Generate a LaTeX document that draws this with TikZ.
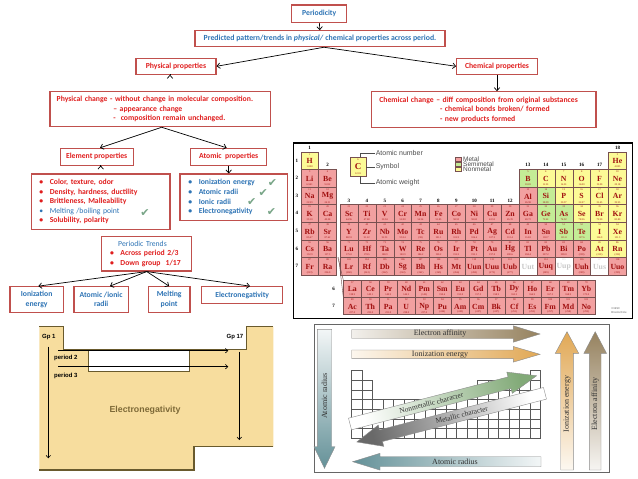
\documentclass[tikz,border=0pt]{standalone}
\usepackage{fontspec}
\setmainfont{Carlito}
\newfontfamily\tnr{Liberation Serif}
\newfontfamily\ars{Liberation Sans}
\newfontfamily\dvs{DejaVu Sans}
\usetikzlibrary{arrows.meta,calc}
\definecolor{bxred}{RGB}{192,80,77}
\definecolor{txblue}{RGB}{46,116,181}
\definecolor{txred}{RGB}{224,30,30}
\definecolor{chk}{RGB}{120,165,135}
\definecolor{cm}{RGB}{242,160,160}
\definecolor{cs}{RGB}{196,236,150}
\definecolor{cn}{RGB}{252,250,150}
\definecolor{cu}{RGB}{255,255,255}
\definecolor{sm}{RGB}{160,15,15}
\definecolor{ss}{RGB}{160,15,15}
\definecolor{sn}{RGB}{160,15,15}
\definecolor{su}{RGB}{200,200,200}
\definecolor{cellln}{RGB}{120,80,80}
\definecolor{tanf}{RGB}{247,221,158}
\definecolor{olv}{RGB}{105,90,45}
\definecolor{entx}{RGB}{125,105,55}
\definecolor{eaC}{RGB}{150,130,95}
\definecolor{ieC}{RGB}{225,168,85}
\definecolor{arC}{RGB}{100,145,152}
\definecolor{nmC}{RGB}{130,170,120}
\definecolor{mtC}{RGB}{105,105,105}
\definecolor{agr}{RGB}{140,140,140}
\definecolor{ttc}{RGB}{50,50,50}
\newcommand\mybul{\makebox[10.5pt][l]{•}}
\begin{document}
\begin{tikzpicture}[x=1pt,y=-1pt,
  box/.style={draw=bxred, line width=1.1pt, fill=white, inner sep=0pt, font=\fontsize{7.7}{9.4}\selectfont\bfseries, align=center},
  arr/.style={-{Straight Barb[length=3pt,width=5.5pt]}, line width=0.7pt, black},
  chkm/.style={font=\dvs\fontsize{11}{11}\selectfont, text=chk, inner sep=0pt},
  pcell/.style={draw=cellln, line width=0.4pt},
  psym/.style={font=\tnr\bfseries\fontsize{7.8}{8}\selectfont, inner sep=0pt},
  pnum/.style={font=\tnr\fontsize{2.6}{3}\selectfont, inner sep=0pt},
  plab/.style={font=\tnr\bfseries\fontsize{5}{5}\selectfont, inner sep=0pt},
  pleg/.style={font=\ars\fontsize{6.5}{7}\selectfont, text=black!70, inner sep=0pt, anchor=west},
  tarr/.style={draw=agr, line width=0.4pt},
  ttxt/.style={font=\tnr\fontsize{8}{8}\selectfont, text=ttc, inner sep=0pt},
  entxt/.style={font=\ars\bfseries\fontsize{6}{6}\selectfont, inner sep=0pt},
  enarr/.style={-{Straight Barb[length=2.5pt,width=4.5pt]}, line width=0.6pt, black},
  olvln/.style={draw=olv, line width=1.2pt}]
\useasboundingbox (0,0) rectangle (638,479);
\fill[white] (0,0) rectangle (638,479);

% ---------- flowchart ----------
\node[box, text=txblue, minimum width=55pt, minimum height=17.7pt] (per) at (319.2,13.85) {Periodicity};
\node[box, text=txblue, minimum width=250pt, minimum height=16pt, font=\fontsize{7.8}{8}\selectfont\bfseries] (pred) at (320,38.7) {Predicted pattern/trends in \textit{physical/} chemical properties across period.};
\node[box, text=txred, minimum width=80pt, minimum height=16pt] (phys) at (176,66.3) {Physical properties};
\node[box, text=txred, minimum width=80.6pt, minimum height=16pt] (chem) at (497,66.3) {Chemical properties};
\node[box, text=txred, minimum width=220.7pt, minimum height=35pt, text width=207.3pt, inner xsep=6.7pt, align=left] (physc) at (160.35,109.2)
 {Physical change - without change in molecular composition.\\\hspace*{56.6pt}– appearance change\\\hspace*{56.6pt}-\ \ composition remain unchanged.};
\node[box, text=txred, minimum width=224.3pt, minimum height=35.6pt, text width=209.1pt, inner xsep=7.6pt, align=left] (chemc) at (483.85,109.5)
 {Chemical change – diff composition from original substances\\\hspace*{60.7pt}- chemical bonds broken/ formed\\\hspace*{60.7pt}- new products formed};
\node[box, text=txred, minimum width=73.3pt, minimum height=16.7pt] (elem) at (96.7,156.7) {Element properties};
\node[box, text=txred, minimum width=76pt, minimum height=16.7pt] (atom) at (228.7,156.7) {Atomic\ \ properties};
\node[box, text=txred, minimum width=138.3pt, minimum height=55.3pt, text width=123.1pt, inner xsep=7.6pt, align=left] (elist) at (100.85,201.65)
 {\mybul Color, texture, odor\\\mybul Density, hardness, ductility\\\mybul Brittleness, Malleability\\{\color{txblue}\mdseries\mybul Melting /boiling point}\\\mybul Solubility, polarity};
\node[box, text=txblue, minimum width=107.3pt, minimum height=46.7pt, text width=90.7pt, inner xsep=8.3pt, align=left, font=\fontsize{7.7}{9.67}\selectfont\bfseries] (alist) at (233.65,197.35)
 {\mybul Ionization energy\\\mybul Atomic radii\\\mybul Ionic radii\\\mybul Electronegativity};
\node[box, text=txred, minimum width=90pt, minimum height=34.3pt, text width=73.4pt, inner xsep=8.3pt, align=left, font=\fontsize{7.7}{9.65}\selectfont\bfseries] (trends) at (146.7,253.85)
 {\makebox[65pt]{\mdseries\textcolor{txblue}{Periodic Trends}}\\\mybul Across period 2/3\\\mybul Down group\ \ 1/17};
\node[box, text=txblue, minimum width=53.3pt, minimum height=25.6pt] (ion) at (36.65,299.5) {Ionization\\energy};
\node[box, text=txblue, minimum width=54.3pt, minimum height=25.6pt] (arad) at (101.15,299.5) {Atomic /ionic\\radii};
\node[box, text=txblue, minimum width=41.7pt, minimum height=25.6pt] (melt) at (169.15,299.5) {Melting\\point};
\node[box, text=txblue, minimum width=81pt, minimum height=16.6pt] (eneg) at (242.2,295) {Electronegativity};

\node[chkm] (k1) at (145,213.3) {✔};
\node[chkm] (k2) at (272.5,182.7) {✔};
\node[chkm] (k3) at (263.3,193.5) {✔};
\node[chkm] (k4) at (251.7,201.7) {✔};
\node[chkm] (k5) at (271.5,211.7) {✔};

\draw[arr] (per) -- (pred);
\draw[arr] ($(pred.south)+(4,0)$) -- (phys.east);
\draw[arr] ($(pred.south)+(4,0)$) -- (chem.west);
\draw[arr] ($(phys.south)+(-6,0)$) -- ($(phys.south)+(-6,0)$ |- physc.north);
\draw[arr] (chem.south) -- (chem.south |- chemc.north);
\draw[arr] ($(physc.south)+(1.3,0)$) -- ($(elem.north)+(3.3,0)$);
\draw[arr] ($(physc.south)+(1.3,0)$) -- ($(atom.north)+(-2,0)$);
\draw[arr] ($(elem.south)+(4,0)$) -- ($(elem.south)+(4,0)$ |- elist.north);
\draw[arr] (atom.south) -- (atom.south |- alist.north);
\draw[arr] (trends.south) -- ($(ion.north)+(1.7,0)$);
\draw[arr] (trends.south) -- ($(arad.north)+(8.8,0)$);
\draw[arr] (trends.south) -- (melt.north);
\draw[arr] (trends.south) -- ($(eneg.north)+(7.8,0)$);

% ---------- periodic table ----------
\draw[line width=1.1pt] (293.5,143) rectangle (632.5,318.5);
\foreach \s/\c/\r/\z/\w/\t in {
H/1/1/1/1.008/n, He/18/1/2/4.003/n,
Li/1/2/3/6.941/m, Be/2/2/4/9.012/m, B/13/2/5/10.81/s, C/14/2/6/12.01/n, N/15/2/7/14.01/n, O/16/2/8/16.00/n, F/17/2/9/19.00/n, Ne/18/2/10/20.18/n,
Na/1/3/11/22.99/m, Mg/2/3/12/24.31/m, Al/13/3/13/26.98/m, Si/14/3/14/28.09/s, P/15/3/15/30.97/n, S/16/3/16/32.07/n, Cl/17/3/17/35.45/n, Ar/18/3/18/39.95/n,
K/1/4/19/39.10/m, Ca/2/4/20/40.08/m, Sc/3/4/21/44.96/m, Ti/4/4/22/47.88/m, V/5/4/23/50.94/m, Cr/6/4/24/52.00/m, Mn/7/4/25/54.94/m, Fe/8/4/26/55.85/m, Co/9/4/27/58.93/m, Ni/10/4/28/58.69/m, Cu/11/4/29/63.55/m, Zn/12/4/30/65.39/m, Ga/13/4/31/69.72/m, Ge/14/4/32/72.61/s, As/15/4/33/74.92/s, Se/16/4/34/78.96/n, Br/17/4/35/79.90/n, Kr/18/4/36/83.80/n,
Rb/1/5/37/85.47/m, Sr/2/5/38/87.62/m, Y/3/5/39/88.91/m, Zr/4/5/40/91.22/m, Nb/5/5/41/92.91/m, Mo/6/5/42/95.94/m, Tc/7/5/43/(98)/m, Ru/8/5/44/101.1/m, Rh/9/5/45/102.9/m, Pd/10/5/46/106.4/m, Ag/11/5/47/107.9/m, Cd/12/5/48/112.4/m, In/13/5/49/114.8/m, Sn/14/5/50/118.7/m, Sb/15/5/51/121.8/s, Te/16/5/52/127.6/s, I/17/5/53/126.9/n, Xe/18/5/54/131.3/n,
Cs/1/6/55/132.9/m, Ba/2/6/56/137.3/m, Lu/3/6/71/175.0/m, Hf/4/6/72/178.5/m, Ta/5/6/73/180.9/m, W/6/6/74/183.9/m, Re/7/6/75/186.2/m, Os/8/6/76/190.2/m, Ir/9/6/77/192.2/m, Pt/10/6/78/195.1/m, Au/11/6/79/197.0/m, Hg/12/6/80/200.6/m, Tl/13/6/81/204.4/m, Pb/14/6/82/207.2/m, Bi/15/6/83/209.0/m, Po/16/6/84/(209)/m, At/17/6/85/(210)/n, Rn/18/6/86/(222)/n,
Fr/1/7/87/(223)/m, Ra/2/7/88/226.0/m, Lr/3/7/103/(260)/m, Rf/4/7/104/(261)/m, Db/5/7/105/(262)/m, Sg/6/7/106/(263)/m, Bh/7/7/107/(262)/m, Hs/8/7/108/(265)/m, Mt/9/7/109/(266)/m, Uun/10/7/110/(269)/m, Uuu/11/7/111/(272)/m, Uub/12/7/112/(277)/m, Uut/13/7/113//u, Uuq/14/7/114/(289)/m, Uup/15/7/115//u, Uuh/16/7/116/(289)/m, Uus/17/7/117//u, Uuo/18/7/118/(293)/m}{
  \pgfmathsetmacro\xx{\c<3 ? 300.7+(\c-1)*17.9 : 340+(\c-3)*17.9}
  \pgfmathsetmacro\yy{151.7+(\r-1)*17.6}
  \draw[pcell, fill=c\t] (\xx,\yy) rectangle ++(17.9,17.6);
  \node[psym, text=s\t] (sym-\s) at (\xx+8.95,\yy+9.4) {\s};
  \node[pnum, text=s\t] (num-\s) at (\xx+8.95,\yy+2.6) {\z};
  \node[pnum, text=s\t] (wt-\s) at (\xx+8.95,\yy+15.3) {\w};
}
\foreach \s/\i/\r/\z/\w in {
La/1/1/57/138.9, Ce/2/1/58/140.1, Pr/3/1/59/140.9, Nd/4/1/60/144.2, Pm/5/1/61/(145), Sm/6/1/62/150.4, Eu/7/1/63/152.0, Gd/8/1/64/157.3, Tb/9/1/65/158.9, Dy/10/1/66/162.5, Ho/11/1/67/164.9, Er/12/1/68/167.3, Tm/13/1/69/168.9, Yb/14/1/70/173.0,
Ac/1/2/89/227.0, Th/2/2/90/232.0, Pa/3/2/91/231.0, U/4/2/92/238.0, Np/5/2/93/237.0, Pu/6/2/94/(244), Am/7/2/95/(243), Cm/8/2/96/(247), Bk/9/2/97/(247), Cf/10/2/98/(251), Es/11/2/99/(252), Fm/12/2/100/(257), Md/13/2/101/(258), No/14/2/102/(259)}{
  \pgfmathsetmacro\xx{343.3+(\i-1)*18}
  \pgfmathsetmacro\yy{280+(\r-1)*17.3}
  \draw[pcell, fill=cm] (\xx,\yy) rectangle ++(18,17.3);
  \node[psym, text=sm] (sym-\s) at (\xx+9,\yy+9.2) {\s};
  \node[pnum, text=sm] (num-\s) at (\xx+9,\yy+2.6) {\z};
  \node[pnum, text=sm] (wt-\s) at (\xx+9,\yy+15) {\w};
}
\draw[cellln, line width=0.4pt] (337.8,257.3) -- (343.3,280);
\draw[cellln, line width=0.4pt] (338.6,257.3) -- (343.3,297.3);
% row and group labels
\foreach \r in {1,...,7}{\node[plab] (row-\r) at (296.8,{151.7+(\r-0.5)*17.6}) {\r};}
\node[plab] (frow6) at (333.5,288.6) {6};
\node[plab] (frow7) at (333.5,305.9) {7};
\node[plab] (g1) at (309.6,147.4) {1};
\node[plab] (g2) at (327.6,165.2) {2};
\foreach \g in {3,...,12}{\node[plab] (g\g) at ({340+(\g-3)*17.9+8.95},200.6) {\g};}
\foreach \g in {13,...,17}{\node[plab] (g\g) at ({340+(\g-3)*17.9+8.95},165.2) {\g};}
\node[plab] (g18) at (617.5,147.4) {18};
% legend
\draw[pcell, fill=cn] (350,157.3) rectangle (366,176);
\node[psym, text=sm, font=\tnr\bfseries\fontsize{9}{9}\selectfont] (legC) at (358,167) {C};
\node[pnum, text=sm] (leg6) at (358,159.6) {6};
\node[pnum, text=sm] (legw) at (358,173.8) {12.01};
\draw[black!70, line width=0.4pt] (360,157.3) -- (360,153.3) -- (375,153.3);
\draw[black!70, line width=0.4pt] (366,166.7) -- (375,166.7);
\draw[black!70, line width=0.4pt] (360,176) -- (360,182.7) -- (375,182.7);
\node[pleg, font=\ars\fontsize{7}{7}\selectfont] (l-an) at (375.6,153.3) {Atomic number};
\node[pleg, font=\ars\fontsize{7}{7}\selectfont] (l-sy) at (375.6,166.7) {Symbol};
\node[pleg, font=\ars\fontsize{7}{7}\selectfont] (l-aw) at (375.6,182.7) {Atomic weight};
\draw[pcell, fill=cm] (455.3,157) rectangle (461.5,161);
\draw[pcell, fill=cs] (455.3,162) rectangle (461.5,166);
\draw[pcell, fill=cn] (455.3,167) rectangle (461.5,171);
\node[pleg] (l-m) at (463,159) {Metal};
\node[pleg] (l-s) at (463,164) {Semimetal};
\node[pleg] (l-n) at (463,169) {Nonmetal};
\node[font=\ars\fontsize{2.8}{3.2}\selectfont, text=black!60, align=left, inner sep=0pt] (copy) at (619,310.5) {©1990\\Brooks/Cole};

% ---------- electronegativity picture ----------
\fill[tanf] (39.3,326.7) -- (63.3,326.7) -- (63.3,349.3) -- (246.7,349.3) -- (246.7,326.7) -- (273.3,326.7) -- (273.3,446.7) -- (194,446.7) -- (194,470) -- (39.3,470) -- cycle;
\draw[olvln, fill=white] (88.3,349.3) rectangle (189.3,371.7);
\draw[olvln] (39.3,326.7) -- (63.3,326.7) -- (63.3,349.3) -- (246.7,349.3) -- (246.7,326.7) -- (273.3,326.7);
\draw[olvln] (273.3,446.7) -- (194,446.7) -- (194,470) -- (39.3,470);
\node[entxt] (gp1) at (48.8,337.3) {Gp 1};
\node[entxt] (gp17) at (235,337.3) {Gp 17};
\node[entxt, anchor=west] (p2) at (54,358.3) {period 2};
\node[entxt, anchor=west] (p3) at (54,375.7) {period 3};
\node[font=\ars\bfseries\fontsize{8.8}{9}\selectfont, text=entx, inner sep=0pt] (entitle) at (145,410.7) {Electronegativity};
\draw[enarr] (48.3,346.7) -- (48.3,458.3);
\draw[enarr] (239.3,351.7) -- (239.3,440);
\draw[enarr] (58.3,350.7) -- (228.3,350.7);
\draw[enarr] (58.3,366.7) -- (228.3,366.7);

% ---------- trends picture ----------
\draw[black!60, line width=0.8pt] (314,324) rectangle (609.3,472.7);
\foreach \r in {1,...,7}{
  \foreach \c in {1,...,18}{
    \pgfmathtruncatemacro\ok{(\r==1 && (\c==1 || \c==18)) || ((\r==2 || \r==3) && (\c<3 || \c>12)) || (\r>3) ? 1 : 0}
    \ifnum\ok=1
      \draw[black!65, line width=0.5pt] ({351.7+(\c-1)*10.5},{370.7+(\r-1)*9.67}) rectangle ++(10.5,9.67);
    \fi
  }
}
\shade[tarr, left color=eaC!12, right color=eaC] (351.7,329.5) -- (513.3,329.5) -- (513.3,325.8) -- (540,334) -- (513.3,342.2) -- (513.3,338.5) -- (351.7,338.5) -- cycle;
\node[ttxt] (t-ea) at (440,334) {Electron affinity};
\shade[tarr, left color=ieC!10, right color=ieC] (351.7,350) -- (513.3,350) -- (513.3,346.5) -- (540,354.3) -- (513.3,362.1) -- (513.3,358.6) -- (351.7,358.6) -- cycle;
\node[ttxt] (t-ie) at (440,354.3) {Ionization energy};
\shade[tarr, left color=arC, right color=arC!8] (541,456.7) -- (380,456.7) -- (380,453.3) -- (352.7,461.7) -- (380,470.1) -- (380,466.7) -- (541,466.7) -- cycle;
\node[ttxt] (t-ar) at (455,461.7) {Atomic radius};
\shade[tarr, top color=arC!8, bottom color=arC] (317.3,329.3) -- (331.7,329.3) -- (331.7,446.7) -- (335,446.7) -- (324.5,468.3) -- (314,446.7) -- (317.3,446.7) -- cycle;
\node[ttxt, rotate=90] (t-arv) at (324.5,396) {Atomic radius};
\shade[tarr, top color=ieC, bottom color=ieC!8] (560.7,470) -- (560.7,353.3) -- (555.3,353.3) -- (567,331.7) -- (578.7,353.3) -- (573.3,353.3) -- (573.3,470) -- cycle;
\node[ttxt, rotate=90] (t-iev) at (567,404) {Ionization energy};
\shade[tarr, top color=eaC, bottom color=eaC!8] (589.3,470) -- (589.3,353.3) -- (583.9,353.3) -- (595.2,331.7) -- (606.5,353.3) -- (601,353.3) -- (601,470) -- cycle;
\node[ttxt, rotate=90] (t-eav) at (595.2,404) {Electron affinity};
\begin{scope}[shift={(350,424)}, rotate=14.5]
  \shade[tarr, top color=nmC, bottom color=white, shading angle=-75.5] (0,-6) -- (164.8,-6) -- (164.8,-11) -- (192.8,0) -- (164.8,11) -- (164.8,6) -- (0,6) -- cycle;
  \node[ttxt, rotate=14.5, font=\tnr\fontsize{7.4}{8}\selectfont] (t-nm) at (84,0) {Nonmetallic character};
\end{scope}
\begin{scope}[shift={(545,393.3)}, rotate=14.5]
  \shade[tarr, top color=mtC, bottom color=white, shading angle=104.5] (0,-6) -- (-169.4,-6) -- (-169.4,-11) -- (-194.4,0) -- (-169.4,11) -- (-169.4,6) -- (0,6) -- cycle;
  \node[ttxt, rotate=14.5, font=\tnr\fontsize{7.4}{8}\selectfont] (t-mt) at (-86,0) {Metallic character};
\end{scope}
\end{tikzpicture}
\end{document}
